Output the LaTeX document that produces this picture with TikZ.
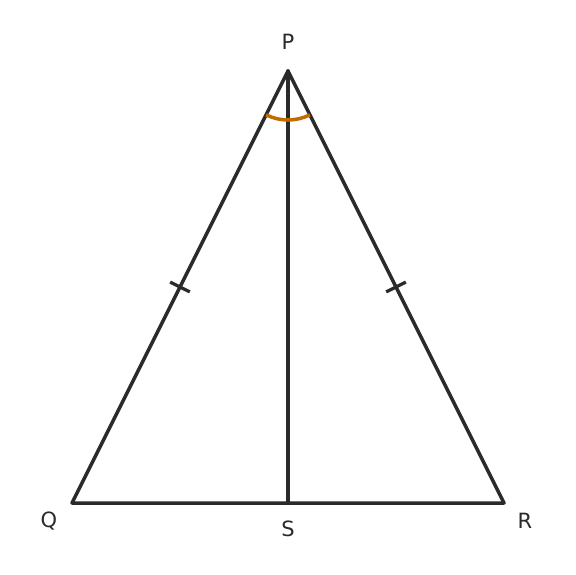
\documentclass[tikz,border=0pt]{standalone}
\usepackage{fontspec}
\setmainfont{DejaVu Sans}
\usetikzlibrary{calc}
\definecolor{ink}{HTML}{2A2A2A}
\definecolor{arcc}{HTML}{C06A00}
\begin{document}
\begin{tikzpicture}[x=1pt,y=-1pt,
  edge/.style={draw=ink,line width=3.5pt,line cap=round,line join=round},
  tickmark/.style={draw=ink,line width=3.2pt},
  lbl/.style={text=ink,font=\fontsize{21}{25}\selectfont,inner sep=0pt}]
\useasboundingbox (0,0) rectangle (576,575);
\coordinate (P) at (288,71);
\coordinate (Q) at (72,503);
\coordinate (R) at (504,503);
\coordinate (S) at (288,503);
\draw[edge] (Q) -- (P) -- (R) -- cycle;
\draw[edge] (P) -- (S);
\draw[draw=arcc,line width=3.5pt] ([shift={(63.43:49)}]P) arc[start angle=63.43,end angle=116.57,radius=49];
\coordinate (M1) at ($(P)!0.5!(Q)$);
\coordinate (M2) at ($(P)!0.5!(R)$);
\draw[tickmark] ($(M1)!11pt!90:(P)$) -- ($(M1)!11pt!-90:(P)$);
\draw[tickmark] ($(M2)!11pt!90:(P)$) -- ($(M2)!11pt!-90:(P)$);
\node[lbl] (lP) at (288,42) {P};
\node[lbl] (lQ) at (49,521) {Q};
\node[lbl] (lR) at (525,521) {R};
\node[lbl] (lS) at (288,529) {S};
\end{tikzpicture}
\end{document}
